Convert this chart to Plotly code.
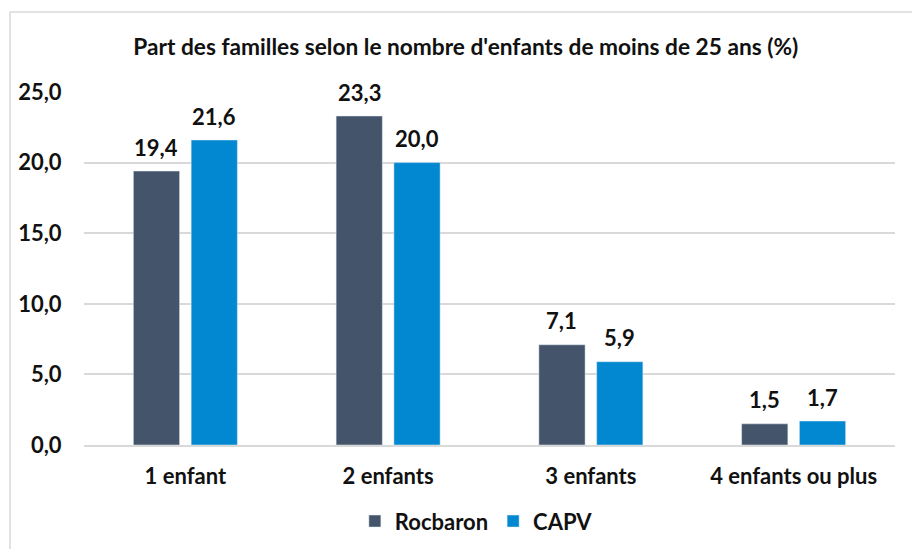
import plotly.graph_objects as go

categories = ["1 enfant", "2 enfants", "3 enfants", "4 enfants ou plus"]
rocbaron = [19.4, 23.3, 7.1, 1.5]
capv = [21.6, 20.0, 5.9, 1.7]

FONT = "Lato, 'Open Sans', sans-serif"

fig = go.Figure()
fig.add_trace(go.Bar(x=categories, y=rocbaron, name="Rocbaron", marker_color="#44546A"))
fig.add_trace(go.Bar(x=categories, y=capv, name="CAPV", marker_color="#0288D1"))

# data labels, placed a bit higher above the bars than plotly's "outside" text
labels = []
for values, shift in [(rocbaron, -29), (capv, 29)]:
    for cat, v in zip(categories, values):
        labels.append(dict(
            x=cat, y=v, xref="x", yref="y",
            text=f"{v:.1f}".replace(".", ","),
            showarrow=False, xshift=shift, yshift=24, yanchor="middle",
            font=dict(size=22, color="#111111", weight="bold"),
        ))

fig.update_layout(
    width=912, height=541,
    margin=dict(l=76, r=25, t=84, b=104, autoexpand=False),
    paper_bgcolor="white", plot_bgcolor="white",
    separators=", ",
    font=dict(family=FONT, size=22, color="#111111", weight="bold"),
    title=dict(
        text="Part des familles selon le nombre d'enfants de moins de 25 ans (%)",
        font=dict(size=22.7, weight="bold"),
        x=0.502, xref="container", xanchor="center",
        y=1 - 39 / 541, yref="container", yanchor="middle",
    ),
    barmode="group", bargap=0.43, bargroupgap=0.2,
    showlegend=True,
    legend=dict(
        orientation="h", x=0.334, xanchor="left", y=-0.216, yanchor="middle",
        font=dict(size=22, weight="bold"),
        itemwidth=30, traceorder="normal",
    ),
    xaxis=dict(
        showgrid=False, showline=True, linecolor="#D9D9D9", linewidth=2,
        ticks="outside", ticklen=11, tickcolor="rgba(0,0,0,0)",
    ),
    yaxis=dict(
        range=[0, 25], dtick=5, tickformat=".1f",
        showgrid=True, gridcolor="#D9D9D9", gridwidth=1.5,
        zeroline=False, showline=False,
        ticks="outside", ticklen=17, tickcolor="rgba(0,0,0,0)",
    ),
    annotations=labels,
    shapes=[dict(
        type="rect", xref="paper", yref="paper",
        x0=-0.0912, x1=1.05, y0=-0.32, y1=1.2266,
        line=dict(color="#D9D9D9", width=1.5), layer="below",
    )],
)

fig.write_html("out.html")
